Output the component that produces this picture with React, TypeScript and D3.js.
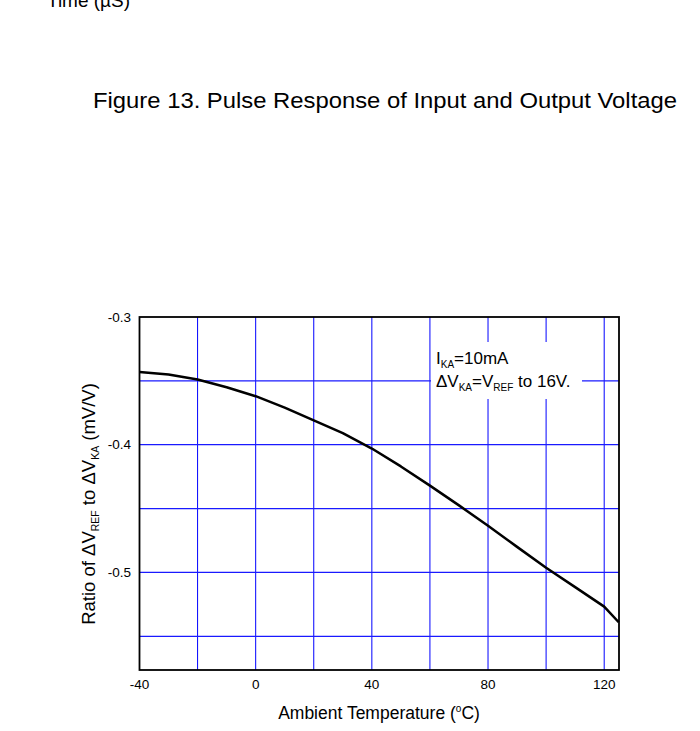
import * as d3 from "d3";
import { useEffect, useRef } from "react";

// temperature (°C) and ratio (mV/V)
const temps = [-40, -30, -20, -10, 0, 10, 20, 30, 40, 50, 60, 70, 80, 90, 100, 110, 120, 125];
const ratios = [-0.343, -0.345, -0.349, -0.355, -0.362, -0.371, -0.381, -0.391, -0.403, -0.417, -0.432, -0.4475, -0.4635, -0.48, -0.4963, -0.5115, -0.5268, -0.539];

const xTicks = [-40, 0, 40, 80, 120];
const xGrid = [-20, 0, 20, 40, 60, 80, 100, 120];
const yTicks = [-0.3, -0.4, -0.5];
const yGrid = [-0.35, -0.4, -0.45, -0.5, -0.55];

const FONT = "'Liberation Sans', Arial, sans-serif";

export default function App() {
    const svgRef = useRef<SVGSVGElement | null>(null);

    useEffect(() => {
        if (!svgRef.current) return;
        const svg = d3.select(svgRef.current);
        svg.selectAll("*").remove();

        const width = 700;
        const height = 731;
        svg.attr("width", width).attr("height", height);

        const plot = { left: 139.5, right: 619, top: 317, bottom: 670 };

        const x = d3.scaleLinear().domain([-40, 125.1]).range([plot.left, plot.right]);
        const y = d3.scaleLinear().domain([-0.5764, -0.3]).range([plot.bottom, plot.top]);

        // leftover caption from the previous figure
        svg.append("text")
            .attr("x", 47)
            .attr("y", 7)
            .style("font-family", FONT)
            .style("font-size", "19px")
            .style("fill", "#000")
            .text("Time (µS)");

        svg.append("text")
            .attr("x", 93)
            .attr("y", 108)
            .attr("textLength", 584)
            .attr("lengthAdjust", "spacingAndGlyphs")
            .style("font-family", FONT)
            .style("font-size", "22px")
            .style("fill", "#000")
            .text("Figure 13. Pulse Response of Input and Output Voltage");

        const g = svg.append("g");

        // grid
        g.selectAll(".vgrid")
            .data(xGrid)
            .enter()
            .append("line")
            .attr("x1", d => x(d))
            .attr("x2", d => x(d))
            .attr("y1", plot.top)
            .attr("y2", plot.bottom)
            .attr("stroke", "#0000ff")
            .attr("stroke-width", 1);

        g.selectAll(".hgrid")
            .data(yGrid)
            .enter()
            .append("line")
            .attr("x1", plot.left)
            .attr("x2", plot.right)
            .attr("y1", d => y(d))
            .attr("y2", d => y(d))
            .attr("stroke", "#1a1aff")
            .attr("stroke-width", 1.2);

        // white box behind the note
        g.append("rect")
            .attr("x", 431)
            .attr("y", 342)
            .attr("width", 151)
            .attr("height", 57)
            .attr("fill", "#fff");

        // curve
        const line = d3.line<number>()
            .x((d, i) => x(temps[i]))
            .y(d => y(d))
            .curve(d3.curveLinear);

        g.append("path")
            .datum(ratios)
            .attr("d", line)
            .attr("fill", "none")
            .attr("stroke", "#000")
            .attr("stroke-width", 2.5)
            .attr("stroke-linejoin", "round");

        // frame
        g.append("rect")
            .attr("x", plot.left)
            .attr("y", plot.top)
            .attr("width", plot.right - plot.left)
            .attr("height", plot.bottom - plot.top)
            .attr("fill", "none")
            .attr("stroke", "#000")
            .attr("stroke-width", 1.8);

        // tick labels
        g.selectAll(".xt")
            .data(xTicks)
            .enter()
            .append("text")
            .attr("x", d => x(d))
            .attr("y", 689)
            .attr("text-anchor", "middle")
            .style("font-family", FONT)
            .style("font-size", "13.5px")
            .text(d => d.toString());

        g.selectAll(".yt")
            .data(yTicks)
            .enter()
            .append("text")
            .attr("x", 131)
            .attr("y", d => y(d) + 4.5)
            .attr("text-anchor", "end")
            .style("font-family", FONT)
            .style("font-size", "13.5px")
            .text(d => d.toFixed(1));

        // axis titles
        const xt = svg.append("text")
            .attr("x", 379)
            .attr("y", 719)
            .attr("text-anchor", "middle")
            .style("font-family", FONT)
            .style("font-size", "17.5px");
        xt.append("tspan").text("Ambient Temperature (");
        xt.append("tspan").attr("dy", -7).style("font-size", "10px").text("o");
        xt.append("tspan").attr("dy", 7).text("C)");

        const yt = svg.append("text")
            .attr("transform", "translate(95,504) rotate(-90)")
            .attr("text-anchor", "middle")
            .style("font-family", FONT)
            .style("font-size", "18.5px");
        yt.append("tspan").text("Ratio of ΔV");
        yt.append("tspan").attr("dy", 4).style("font-size", "10.5px").text("REF");
        yt.append("tspan").attr("dy", -4).text(" to ΔV");
        yt.append("tspan").attr("dy", 4).style("font-size", "10.5px").text("KA");
        yt.append("tspan").attr("dy", -4).text(" (mV/V)");

        // note
        const n1 = svg.append("text")
            .attr("x", 436)
            .attr("y", 364)
            .style("font-family", FONT)
            .style("font-size", "17px");
        n1.append("tspan").text("I");
        n1.append("tspan").attr("dy", 4).style("font-size", "10px").text("KA");
        n1.append("tspan").attr("dy", -4).text("=10mA");

        const n2 = svg.append("text")
            .attr("x", 436)
            .attr("y", 387)
            .style("font-family", FONT)
            .style("font-size", "17px");
        n2.append("tspan").text("ΔV");
        n2.append("tspan").attr("dy", 4).style("font-size", "10px").text("KA");
        n2.append("tspan").attr("dy", -4).text("=V");
        n2.append("tspan").attr("dy", 4).style("font-size", "10px").text("REF");
        n2.append("tspan").attr("dy", -4).text(" to 16V.");
    }, []);

    return (
        <svg
            ref={svgRef}
            style={{ position: "absolute", left: 0, top: 0, background: "#fff" }}
        ></svg>
    );
}
